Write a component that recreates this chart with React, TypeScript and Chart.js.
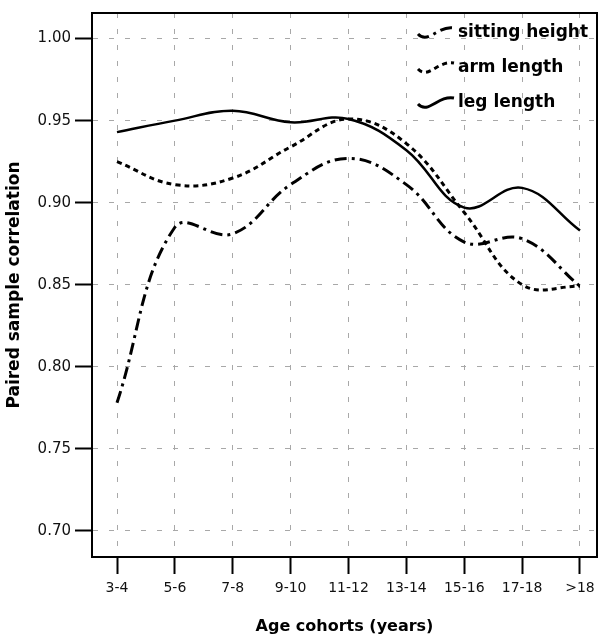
import React, { useEffect, useRef } from "react";
import { Chart, registerables } from "chart.js";

Chart.register(...registerables);

const categories = ["3-4", "5-6", "7-8", "9-10", "11-12", "13-14", "15-16", "17-18", ">18"];
const sittingHeight = [0.778, 0.885, 0.881, 0.911, 0.927, 0.911, 0.876, 0.878, 0.849];
const armLength = [0.925, 0.911, 0.915, 0.934, 0.951, 0.936, 0.894, 0.85, 0.849];
const legLength = [0.943, 0.95, 0.956, 0.949, 0.951, 0.932, 0.897, 0.909, 0.883];
const yTicks = [0.7, 0.75, 0.8, 0.85, 0.9, 0.95, 1.0];

const FONT = "'DejaVu Sans', sans-serif";

const framePlugin = {
  id: "frame",
  afterDraw(chart: any) {
    const { ctx, chartArea } = chart;
    ctx.save();
    ctx.strokeStyle = "#000";
    ctx.lineWidth = 2;
    ctx.setLineDash([]);
    ctx.strokeRect(chartArea.left, chartArea.top, chartArea.right - chartArea.left, chartArea.bottom - chartArea.top);
    ctx.restore();
  },
};

const legendPlugin = {
  id: "innerLegend",
  afterDraw(chart: any) {
    const { ctx } = chart;
    const x0 = 418;
    const rows = [33, 68, 103];
    chart.data.datasets.forEach((ds: any, i: number) => {
      const cy = rows[i];
      ctx.save();
      ctx.strokeStyle = "#000";
      ctx.lineWidth = 3;
      ctx.setLineDash(ds.borderDash || []);
      ctx.beginPath();
      ctx.moveTo(x0, cy + 1);
      ctx.bezierCurveTo(x0 + 10, cy + 12, x0 + 20, cy - 8, x0 + 36, cy - 5);
      ctx.stroke();
      ctx.setLineDash([]);
      ctx.fillStyle = "#000";
      ctx.font = `bold 17px ${FONT}`;
      ctx.textBaseline = "middle";
      ctx.textAlign = "left";
      ctx.fillText(ds.label, 458, cy);
      ctx.restore();
    });
  },
};

const gridOpts = {
  color: "#a8a8a8",
  lineWidth: 1,
  drawTicks: true,
  tickLength: 17,
  tickColor: "#000",
  tickWidth: 2,
  tickBorderDash: [],
};

const borderOpts = { display: true, color: "#000", width: 2, dash: [5, 11] };

export default function App() {
  const canvasRef = useRef<HTMLCanvasElement | null>(null);

  useEffect(() => {
    document.body.style.margin = "0";
    const canvas = canvasRef.current;
    if (!canvas) return;
    const toPts = (arr: number[]) => arr.map((v, i) => ({ x: i, y: v }));
    const chart = new Chart(canvas, {
      type: "line",
      data: {
        datasets: [
          {
            label: "sitting height",
            data: toPts(sittingHeight),
            borderColor: "#000",
            borderWidth: 3,
            borderDash: [12, 5, 3, 5],
            pointRadius: 0,
            tension: 0.4,
            fill: false,
          },
          {
            label: "arm length",
            data: toPts(armLength),
            borderColor: "#000",
            borderWidth: 3,
            borderDash: [5, 4],
            pointRadius: 0,
            tension: 0.4,
            fill: false,
          },
          {
            label: "leg length",
            data: toPts(legLength),
            borderColor: "#000",
            borderWidth: 2.5,
            pointRadius: 0,
            tension: 0.4,
            fill: false,
          },
        ],
      },
      options: {
        responsive: true,
        maintainAspectRatio: false,
        animation: false,
        layout: { padding: { top: 5, right: 12, left: 0, bottom: 0 } },
        plugins: { legend: { display: false }, tooltip: { enabled: false } },
        scales: {
          x: {
            type: "linear",
            min: -0.432,
            max: 8.294,
            afterBuildTicks: (axis: any) => {
              axis.ticks = categories.map((_, i) => ({ value: i }));
            },
            afterFit: (scale: any) => {
              scale.height = 82;
            },
            ticks: {
              callback: (v: any) => categories[Math.round(Number(v))] ?? "",
              color: "#111",
              font: { family: FONT, size: 14 },
              padding: 6,
              maxRotation: 0,
              autoSkip: false,
            },
            grid: gridOpts,
            border: borderOpts,
            title: {
              display: true,
              text: "Age cohorts (years)",
              color: "#000",
              font: { family: FONT, size: 16, weight: "bold" },
              padding: { top: 0, bottom: 3 },
            },
          },
          y: {
            type: "linear",
            min: 0.684,
            max: 1.0156,
            afterBuildTicks: (axis: any) => {
              axis.ticks = yTicks.map((v) => ({ value: v }));
            },
            afterFit: (scale: any) => {
              scale.width = 92;
            },
            ticks: {
              callback: (v: any) => Number(v).toFixed(2),
              color: "#111",
              font: { family: FONT, size: 15 },
              padding: 4,
            },
            grid: gridOpts,
            border: borderOpts,
            title: {
              display: true,
              text: "Paired sample correlation",
              color: "#000",
              font: { family: FONT, size: 17, weight: "bold" },
              padding: { top: 4, bottom: 0 },
            },
          },
        },
      },
      plugins: [framePlugin, legendPlugin],
    } as any);
    return () => chart.destroy();
  }, []);

  return (
    <div style={{ width: 609, height: 639, position: "relative" }}>
      <canvas ref={canvasRef} />
    </div>
  );
}
